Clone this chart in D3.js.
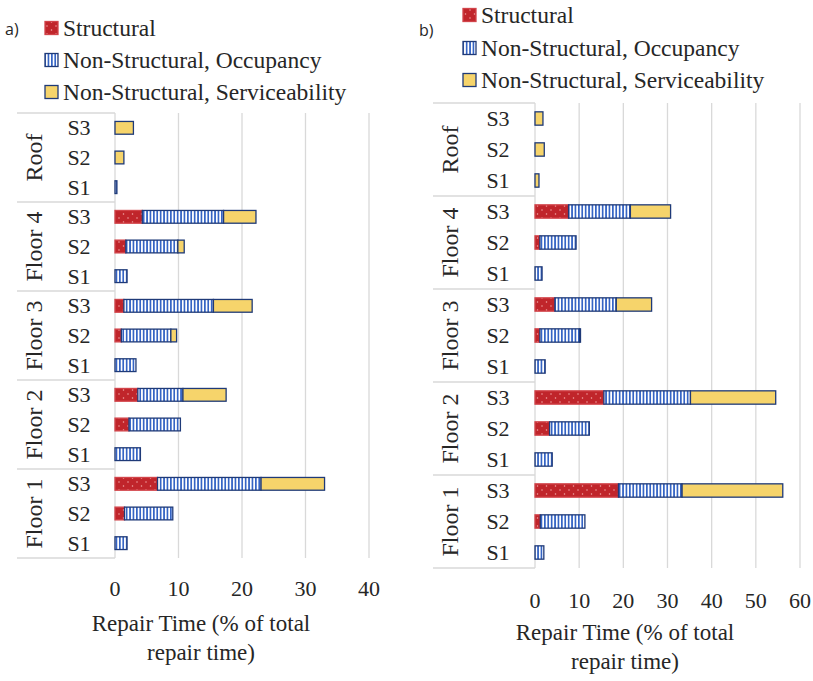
<!DOCTYPE html>
<html>
<head>
<meta charset="utf-8">
<script src="https://cdn.jsdelivr.net/npm/d3@7/dist/d3.min.js"></script>
<style>
  html, body { margin: 0; padding: 0; background: #ffffff; }
  svg { display: block; }
</style>
</head>
<body>
<svg id="chart" width="813" height="681"></svg>
<script>
// ---------------- DATA ----------------
const groups = ["Roof", "Floor 4", "Floor 3", "Floor 2", "Floor 1"];
const scenarios = ["S3", "S2", "S1"];
const seriesNames = ["Structural", "Non-Structural, Occupancy", "Non-Structural, Serviceability"];

// rows ordered top to bottom: Roof S3, S2, S1, Floor 4 S3, ... Floor 1 S1
const aStructural      = [0, 0, 0,   4.3, 1.7, 0,   1.4, 1.0, 0,   3.6, 2.2, 0,   6.7, 1.5, 0];
const aOccupancy       = [0, 0, 0.3, 12.8, 8.2, 1.9, 14.1, 7.8, 3.3, 7.1, 8.1, 4.0, 16.3, 7.6, 1.9];
const aServiceability  = [2.9, 1.4, 0, 5.1, 1.0, 0,  6.1, 0.9, 0,   6.8, 0, 0,     10.0, 0, 0];

const bStructural      = [0, 0, 0,   7.6, 1.1, 0,   4.5, 1.1, 0,   15.6, 3.3, 0,  18.9, 1.2, 0];
const bOccupancy       = [0, 0, 0,   14.0, 8.2, 1.6, 13.9, 9.0, 2.3, 19.6, 9.0, 3.9, 14.4, 10.1, 2.0];
const bServiceability  = [1.8, 2.1, 0.9, 9.1, 0, 0,  8.0, 0.2, 0,   19.3, 0, 0,    22.8, 0, 0];

const aTicks = [0, 10, 20, 30, 40];
const bTicks = [0, 10, 20, 30, 40, 50, 60];
const axisTitleLines = ["Repair Time (% of total", "repair time)"];
const panelLabels = ["a)", "b)"];

// ---------------- DRAW ----------------
const SERIF = "'Liberation Serif', 'DejaVu Serif', 'Times New Roman', Times, serif";
const svg = d3.select("#chart");
const defs = svg.append("defs");

// Structural: red with small light dots
const pDots = defs.append("pattern").attr("id", "pDots")
  .attr("patternUnits", "userSpaceOnUse").attr("width", 9).attr("height", 8);
pDots.append("rect").attr("width", 9).attr("height", 8).attr("fill", "#c0252b");
pDots.append("circle").attr("cx", 2).attr("cy", 2).attr("r", 0.75).attr("fill", "#f2a7a7");
pDots.append("circle").attr("cx", 6.5).attr("cy", 6).attr("r", 0.75).attr("fill", "#f2a7a7");

// Occupancy: white with blue vertical stripes
const pStripes = defs.append("pattern").attr("id", "pStripes")
  .attr("patternUnits", "userSpaceOnUse").attr("width", 3.4).attr("height", 10);
pStripes.append("rect").attr("width", 3.4).attr("height", 10).attr("fill", "#ffffff");
pStripes.append("rect").attr("width", 1.7).attr("height", 10).attr("fill", "#3564c4");

const fills = ["url(#pDots)", "url(#pStripes)", "#f6d46b"];
const strokes = ["#d2444a", "#1f3a78", "#1f3a78"];

const rowKeys = [];
groups.forEach(g => scenarios.forEach(s => rowKeys.push(g + "|" + s)));

function serifText(sel) {
  return sel.style("font-family", SERIF).style("fill", "#262626");
}

function drawPanel(cfg) {
  const g = svg.append("g");
  const x = d3.scaleLinear().domain([cfg.ticks[0], cfg.ticks[cfg.ticks.length - 1]])
    .range([cfg.x0, cfg.x1]);
  const y = d3.scaleBand().domain(rowKeys).range([cfg.yTop, cfg.yBot]).paddingInner(0.57).paddingOuter(0.285);
  const step = (cfg.yBot - cfg.yTop) / rowKeys.length;

  // gridlines
  g.append("g").selectAll("line").data(cfg.ticks.slice(1)).join("line")
    .attr("x1", d => x(d)).attr("x2", d => x(d))
    .attr("y1", cfg.yTop).attr("y2", cfg.yBot)
    .attr("stroke", "#d9d9d9").attr("stroke-width", 1.3);

  // axis line (category axis)
  g.append("line").attr("x1", x(0)).attr("x2", x(0))
    .attr("y1", cfg.yTop).attr("y2", cfg.yBot)
    .attr("stroke", "#d9d9d9").attr("stroke-width", 1.3);

  // table separators of the multi-level category axis
  const sepYs = d3.range(groups.length + 1).map(i => cfg.yTop + i * step * scenarios.length);
  g.append("g").selectAll("line").data(sepYs).join("line")
    .attr("x1", cfg.tableLeft).attr("x2", x(0))
    .attr("y1", d => d).attr("y2", d => d)
    .attr("stroke", "#d9d9d9").attr("stroke-width", 1.3);

  // stacked bars
  const rows = rowKeys.map((k, i) => ({ key: k, vals: [cfg.s[i], cfg.o[i], cfg.v[i]] }));
  const segs = [];
  rows.forEach(r => {
    let acc = 0;
    r.vals.forEach((v, si) => {
      if (v > 0) segs.push({ key: r.key, si, start: acc, end: acc + v });
      acc += v;
    });
  });
  g.append("g").selectAll("rect").data(segs).join("rect")
    .attr("x", d => x(d.start))
    .attr("width", d => x(d.end) - x(d.start))
    .attr("y", d => y(d.key))
    .attr("height", y.bandwidth())
    .attr("fill", d => fills[d.si])
    .attr("stroke", d => strokes[d.si])
    .attr("stroke-width", 1.3);

  // scenario labels
  serifText(g.append("g").selectAll("text").data(rowKeys).join("text"))
    .attr("x", cfg.sX).attr("y", d => y(d) + y.bandwidth() / 2)
    .attr("text-anchor", "middle").attr("dominant-baseline", "central")
    .style("font-size", "22px")
    .text(d => d.split("|")[1]);

  // group labels (rotated)
  serifText(g.append("g").selectAll("text").data(groups).join("text"))
    .attr("transform", (d, i) => {
      const cy = cfg.yTop + (i + 0.5) * step * scenarios.length;
      return `translate(${cfg.groupX},${cy}) rotate(-90)`;
    })
    .attr("text-anchor", "middle").attr("dominant-baseline", "central")
    .style("font-size", "24px")
    .text(d => d);

  // x axis tick labels
  serifText(g.append("g").selectAll("text").data(cfg.ticks).join("text"))
    .attr("x", d => x(d)).attr("y", cfg.tickY)
    .attr("text-anchor", "middle").attr("dominant-baseline", "central")
    .style("font-size", "22px")
    .text(d => d);

  // axis title
  serifText(g.append("g").selectAll("text").data(axisTitleLines).join("text"))
    .attr("x", cfg.titleX).attr("y", (d, i) => cfg.titleY[i])
    .attr("text-anchor", "middle").attr("dominant-baseline", "central")
    .style("font-size", "23px")
    .text(d => d);

  // legend
  const lg = g.append("g");
  seriesNames.forEach((n, i) => {
    lg.append("rect")
      .attr("x", cfg.legX).attr("y", cfg.legY[i] - 6.5)
      .attr("width", 13).attr("height", 13)
      .attr("fill", fills[i]).attr("stroke", strokes[i]).attr("stroke-width", 1.3);
    serifText(lg.append("text"))
      .attr("x", cfg.legX + 18).attr("y", cfg.legY[i])
      .attr("dominant-baseline", "central")
      .style("font-size", "23.5px")
      .text(n);
  });

  // panel label
  g.append("text").attr("x", cfg.labX).attr("y", cfg.labY)
    .attr("dominant-baseline", "central")
    .style("font-family", "'Open Sans', 'Liberation Sans', sans-serif")
    .style("fill", "#262626")
    .style("font-size", "16px")
    .text(cfg.label);
}

drawPanel({
  s: aStructural, o: aOccupancy, v: aServiceability, ticks: aTicks,
  x0: 115, x1: 369, yTop: 113, yBot: 558,
  tableLeft: 17, groupX: 34, sX: 79,
  tickY: 588, titleX: 201, titleY: [623, 652],
  legX: 45, legY: [28, 60, 92], labX: 5, labY: 29, label: panelLabels[0]
});

drawPanel({
  s: bStructural, o: bOccupancy, v: bServiceability, ticks: bTicks,
  x0: 535, x1: 800, yTop: 103, yBot: 568,
  tableLeft: 433, groupX: 450, sX: 498,
  tickY: 600, titleX: 625, titleY: [632, 661],
  legX: 463, legY: [15, 48, 80], labX: 419, labY: 30, label: panelLabels[1]
});
</script>
</body>
</html>
